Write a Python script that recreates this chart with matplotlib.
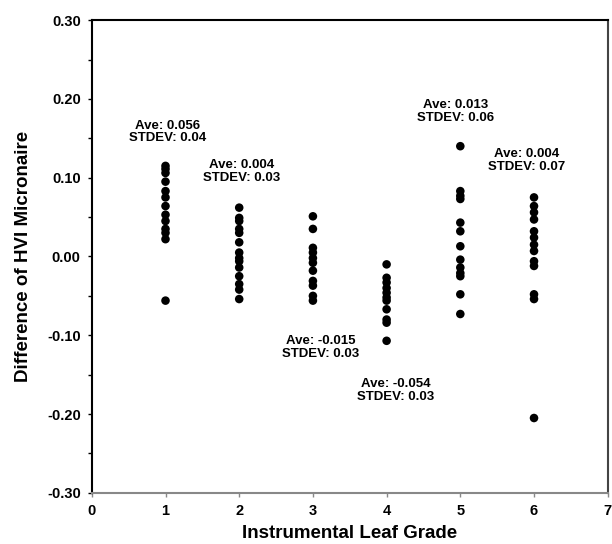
import matplotlib
matplotlib.use("Agg")
import matplotlib.pyplot as plt
from matplotlib.ticker import MultipleLocator, FormatStrFormatter

plt.rcParams["font.family"] = ["Liberation Sans", "DejaVu Sans"]

# differences, one list per leaf grade
grade1 = [0.115, 0.111, 0.106, 0.095, 0.083, 0.075, 0.064, 0.053, 0.045, 0.035, 0.030, 0.022, -0.056]
grade2 = [0.062, 0.049, 0.045, 0.035, 0.030, 0.018, 0.005, -0.002, -0.006, -0.014, -0.025, -0.035, -0.042, -0.054]
grade3 = [0.051, 0.035, 0.011, 0.005, -0.002, -0.008, -0.018, -0.031, -0.037, -0.050, -0.056]
grade4 = [-0.010, -0.027, -0.033, -0.040, -0.046, -0.052, -0.056, -0.067, -0.080, -0.084, -0.107]
grade5 = [0.140, 0.083, 0.077, 0.073, 0.043, 0.032, 0.013, -0.004, -0.014, -0.021, -0.025, -0.048, -0.073]
grade6 = [0.075, 0.064, 0.056, 0.047, 0.032, 0.024, 0.015, 0.007, -0.006, -0.012, -0.048, -0.054, -0.205]

grades = [1, 2, 3, 4, 5, 6]
all_vals = [grade1, grade2, grade3, grade4, grade5, grade6]

ave_labels = ["0.056", "0.004", "-0.015", "-0.054", "0.013", "0.004"]
stdev_labels = ["0.04", "0.03", "0.03", "0.03", "0.06", "0.07"]
label_x = [1.03, 2.03, 3.10, 4.12, 4.94, 5.90]
label_y = [0.158, 0.108, -0.115, -0.170, 0.184, 0.122]

fig = plt.figure(figsize=(6.12, 5.44), dpi=100)
ax = fig.add_axes([0.150, 0.094, 0.843, 0.869])

for g, vals in zip(grades, all_vals):
    ax.scatter([g] * len(vals), vals, s=38, color="black", edgecolors="none", zorder=3)

for i in range(len(grades)):
    ax.text(label_x[i], label_y[i], "Ave: {}\nSTDEV: {}".format(ave_labels[i], stdev_labels[i]),
            ha="center", va="center", fontsize=9.5, fontweight="bold", linespacing=1.1)

ax.set_xlim(0, 7)
ax.set_ylim(-0.30, 0.30)
ax.xaxis.set_major_locator(MultipleLocator(1))
ax.yaxis.set_major_locator(MultipleLocator(0.1))
ax.yaxis.set_minor_locator(MultipleLocator(0.05))
ax.yaxis.set_major_formatter(FormatStrFormatter("%.2f"))

for lab in ax.get_xticklabels() + ax.get_yticklabels():
    lab.set_fontweight("bold")
ax.tick_params(axis="both", labelsize=10.5, length=3, width=1, pad=5)
ax.tick_params(axis="y", which="minor", length=3, width=1)
ax.tick_params(axis="x", colors="#888888", labelcolor="black")

ax.spines["left"].set_color("black")
ax.spines["top"].set_color("black")
ax.spines["right"].set_color("#444444")
ax.spines["bottom"].set_color("#888888")
for s in ax.spines.values():
    s.set_linewidth(1.5)

ax.set_xlabel("Instrumental Leaf Grade", fontsize=13.5, fontweight="bold", labelpad=5)
ax.set_ylabel("Difference of HVI Micronaire", fontsize=13.5, fontweight="bold", labelpad=11)

plt.savefig("out.png", dpi=100)
